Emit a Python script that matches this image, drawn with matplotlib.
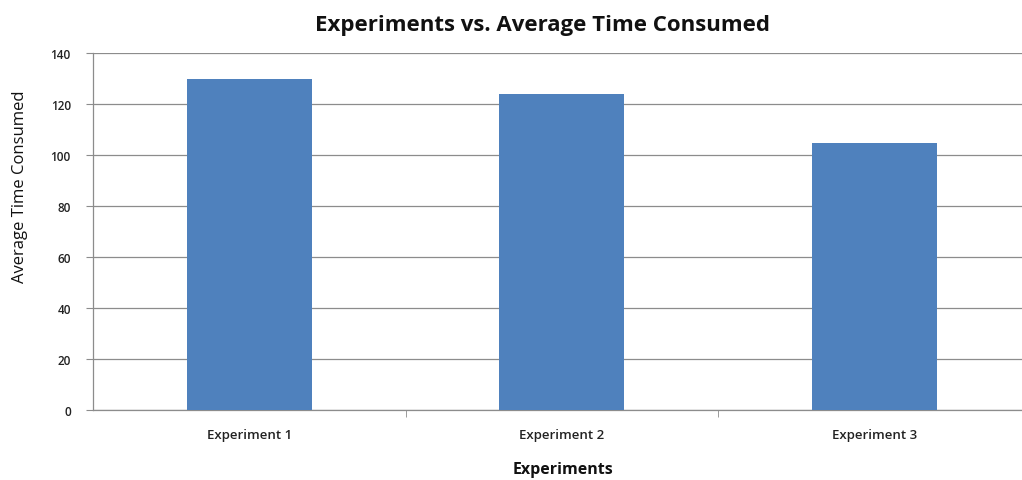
import matplotlib
matplotlib.use("Agg")
import matplotlib.pyplot as plt
import numpy as np

categories = ["Experiment 1", "Experiment 2", "Experiment 3"]
avg_time = [130.0, 123.8, 104.7]
y_ticks = [0, 20, 40, 60, 80, 100, 120, 140]

plt.rcParams["font.family"] = ["Open Sans", "DejaVu Sans"]

W, H = 1022, 481
fig = plt.figure(figsize=(W / 100, H / 100), dpi=100)
ax = fig.add_axes([93 / W, 70 / H, 937.5 / W, 357 / H])

x = np.arange(len(categories))
ax.bar(x, avg_time, width=0.4, color="#4f81bd", zorder=3)

ax.set_xlim(-0.5, len(categories) - 0.5)
ax.set_ylim(0, 140)
ax.set_yticks(y_ticks)
ax.set_yticklabels([str(v) for v in y_ticks], fontsize=8.5,
                   fontweight="semibold", color="#222222")
ax.yaxis.grid(True, color="#8c8c8c", linewidth=0.9, zorder=0)

ax.set_xticks(x)
ax.set_xticklabels(categories, fontsize=9.5, fontweight="semibold", color="#222222")
ax.tick_params(axis="x", which="major", length=0, pad=13)
ax.set_xticks(np.arange(0.5, len(categories) - 0.5, 1.0), minor=True)
ax.tick_params(axis="x", which="minor", length=5, color="#8c8c8c", direction="out")
ax.tick_params(axis="y", length=5, color="#8c8c8c", pad=11)

for side in ("top", "right"):
    ax.spines[side].set_visible(False)
for side in ("left", "bottom"):
    ax.spines[side].set_color("#8c8c8c")
    ax.spines[side].set_linewidth(0.9)

fig.text(542 / W, 1 - 25 / H, "Experiments vs. Average Time Consumed",
         ha="center", va="center", fontsize=16, fontweight="bold", color="#111111")
fig.text(563 / W, 1 - 470 / H, "Experiments", ha="center", va="center",
         fontsize=11.5, fontweight="bold", color="#111111")
fig.text(20 / W, 1 - 187 / H, "Average Time Consumed", ha="center", va="center",
         rotation=90, fontsize=12, color="#111111")

fig.savefig("out.png", dpi=100)
